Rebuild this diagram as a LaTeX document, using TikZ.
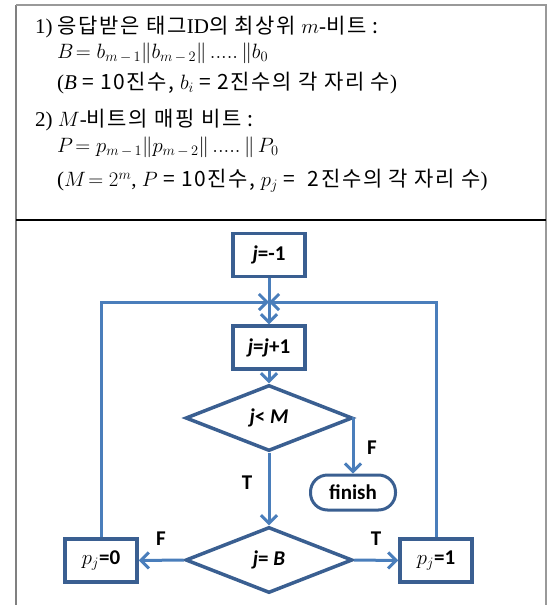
\documentclass[tikz,border=0pt]{standalone}
\usepackage{fontspec}
\setmainfont{Liberation Serif}
\newfontfamily\kr[LetterSpace=8]{Noto Sans CJK KR}
\newfontfamily\fc{Carlito}
\usetikzlibrary{arrows.meta,shapes.geometric}
\definecolor{boxblue}{RGB}{58,95,145}
\definecolor{lineblue}{RGB}{74,126,187}
\begin{document}
\begin{tikzpicture}[
  x=1pt, y=-1pt,
  every node/.style={font=\fc\bfseries\fontsize{21}{23}\selectfont},
  box/.style={
    draw=boxblue,
    line width=3.5pt,
    minimum width=72pt,
    minimum height=43pt,
    inner sep=0pt
  },
  test/.style={
    draw=boxblue,
    diamond,
    line width=3.5pt,
    minimum width=167pt,
    minimum height=66pt,
    inner sep=0pt
  },
  stopbox/.style={
    draw=boxblue,
    rounded corners=17pt,
    line width=3pt,
    minimum width=85pt,
    minimum height=35pt
  },
  link/.style={line width=3pt, draw=lineblue},
  arrow/.style={link, -{Straight Barb[length=8pt,width=16pt]}},
  note/.style={anchor=west, inner sep=0pt, font=\fontsize{21}{23}\selectfont}
]
\useasboundingbox (0,0) rectangle (547,605);
% frame
\draw[gray, line width=2.5pt] (16,605) -- (16,5);
\draw[gray!80, line width=1.5pt] (16,5) -- (546,5) -- (546,605);
\draw[black, line width=1.5pt] (16,220) -- (546,220);
% definitions
\node[note] (d1) at (35,27) {1) {\kr 응답받은 태그}ID{\kr 의 최상위} $m$-{\kr 비트 :}};
\node[note] (d2) at (57,53) {$B\!=b_{m\,-\,1}\|b_{m\,-\,2}\|\,.....\,\|b_0$};
\node[note] (d3) at (57,83) {(\textit{B} {\kr = 10진수,} $b_i$ {\kr = 2진수의 각 자리 수})};
\node[note] (d4) at (35,120) {2) $M$-{\kr 비트의 매핑 비트 :}};
\node[note] (d5) at (57,147) {$P\!=p_{m\,-\,1}\|p_{m\,-\,2}\|\,.....\,\|\,P_0$};
\node[note] (d6) at (57,181) {($M\!=2^m$, $P$ {\kr = 10진수,} $p_j$ {\kr =\ \ 2진수의 각 자리 수})};
% flowchart
\node[box] (init) at (269,255) {\textit{j}=-1};
\coordinate (merge) at (269,302);
\node[box] (inc) at (269,347.5) {\textit{j}=\textit{j}+1};
\node[test] (lt) at (269,418) {\textit{j}< \textit{M}};
\node[stopbox] (fin) at (353,492.5) {finish};
\node[test] (eq) at (269,560) {\textit{j}= \textit{B}};
\node[box] (p0) at (101,560.5) {$p_j$=0};
\node[box] (p1) at (436,560.5) {$p_j$=1};
\node (lf) at (372,448) {F};
\node (lt2) at (247,483) {T};
\node (ef) at (161,539) {F};
\node (et) at (376,539) {T};
\draw[link] (init) -- (merge);
\draw[arrow] (merge) -- (inc);
\draw[arrow] (inc) -- (lt);
\draw[arrow] (lt.east) -| (fin.north);
\draw[arrow] (lt) -- (eq);
\draw[arrow] (eq.west) -- (p0.east);
\draw[arrow] (eq.east) -- (p1.west);
\draw[arrow] (p0.north) |- (merge);
\draw[arrow] (p1.north) |- (merge);
\end{tikzpicture}
\end{document}
